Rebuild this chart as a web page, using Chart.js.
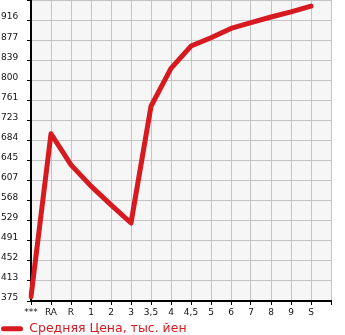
<!DOCTYPE html>
<html>
<head>
<meta charset="utf-8">
<script src="https://cdn.jsdelivr.net/npm/chart.js@4/dist/chart.umd.min.js"></script>
<style>
  html, body { margin: 0; padding: 0; background: #ffffff; }
  #wrap { width: 345px; height: 335px; }
</style>
</head>
<body>
<div id="wrap"><canvas id="c" width="345" height="335"></canvas></div>
<script>
const categories = ['***', 'RA', 'R', '1', '2', '3', '3,5', '4', '4,5', '5', '6', '7', '8', '9', 'S', ''];
const seriesName = 'Средняя Цена, тыс. йен';
const avgPrice = [383, 697, 637, 596, 560, 525, 750, 823, 866, 882, 900, 911, 922, 932, 943, null];
const yTickValues = [1124/3, 1240/3, 1356/3, 1472/3, 1588/3, 1704/3, 1820/3, 1936/3, 2052/3, 2168/3, 2284/3, 2400/3, 2516/3, 2632/3, 2748/3, 2864/3];
const yTickLabels = ['375', '413', '452', '491', '529', '568', '607', '645', '684', '723', '761', '800', '839', '877', '916', ''];

const RED = '#d71a1f';
const FONT = 'DejaVu Sans';

const plotBg = {
  id: 'plotBg',
  beforeDraw(chart) {
    const a = chart.chartArea, ctx = chart.ctx;
    ctx.save();
    ctx.fillStyle = '#f6f6f6';
    ctx.fillRect(a.left, a.top, a.right - a.left, a.bottom - a.top);
    ctx.restore();
  }
};

new Chart(document.getElementById('c'), {
  type: 'line',
  data: {
    labels: categories,
    datasets: [{
      label: seriesName,
      data: avgPrice,
      borderColor: RED,
      backgroundColor: RED,
      borderWidth: 5,
      pointRadius: 0,
      tension: 0,
      borderCapStyle: 'round',
      borderJoinStyle: 'round',
      fill: false
    }]
  },
  options: {
    responsive: false,
    animation: false,
    layout: { autoPadding: false, padding: { left: 1, right: 14, top: 0, bottom: -10 } },
    plugins: {
      tooltip: { enabled: false },
      legend: {
        position: 'bottom',
        align: 'start',
        labels: {
          padding: 0,
          boxWidth: 22,
          boxHeight: 5,
          useBorderRadius: true,
          borderRadius: 2.5,
          color: RED,
          font: { family: FONT, size: 12.5 },
          generateLabels: (chart) => [{
            text: seriesName, fillStyle: RED, strokeStyle: RED, lineWidth: 0,
            fontColor: RED, borderRadius: 2.5, datasetIndex: 0, hidden: false
          }]
        }
      }
    },
    scales: {
      x: {
        type: 'category',
        offset: false,
        grid: { color: '#c4c4c4', lineWidth: 1, tickColor: '#000', tickLength: 4, drawTicks: true },
        border: { color: '#000', width: 2 },
        ticks: { autoSkip: false, maxRotation: 0, minRotation: 0, padding: 2, color: '#111', font: { family: FONT, size: 9 } },
        afterFit(scale) { scale.height = 21.5; }
      },
      y: {
        min: 1124/3,
        max: 2864/3,
        grid: { color: '#c4c4c4', lineWidth: 1, tickColor: '#000', tickLength: 4, drawTicks: true },
        border: { color: '#000', width: 2 },
        ticks: {
          crossAlign: 'far',
          labelOffset: -3,
          padding: 0,
          color: '#111',
          font: { family: FONT, size: 9, lineHeight: 0.01 },
          callback: (v, i) => yTickLabels[i]
        },
        afterBuildTicks(scale) { scale.ticks = yTickValues.map(v => ({ value: v })); },
        afterFit(scale) { scale.width = 30; }
      }
    }
  },
  plugins: [plotBg]
});
</script>
</body>
</html>
